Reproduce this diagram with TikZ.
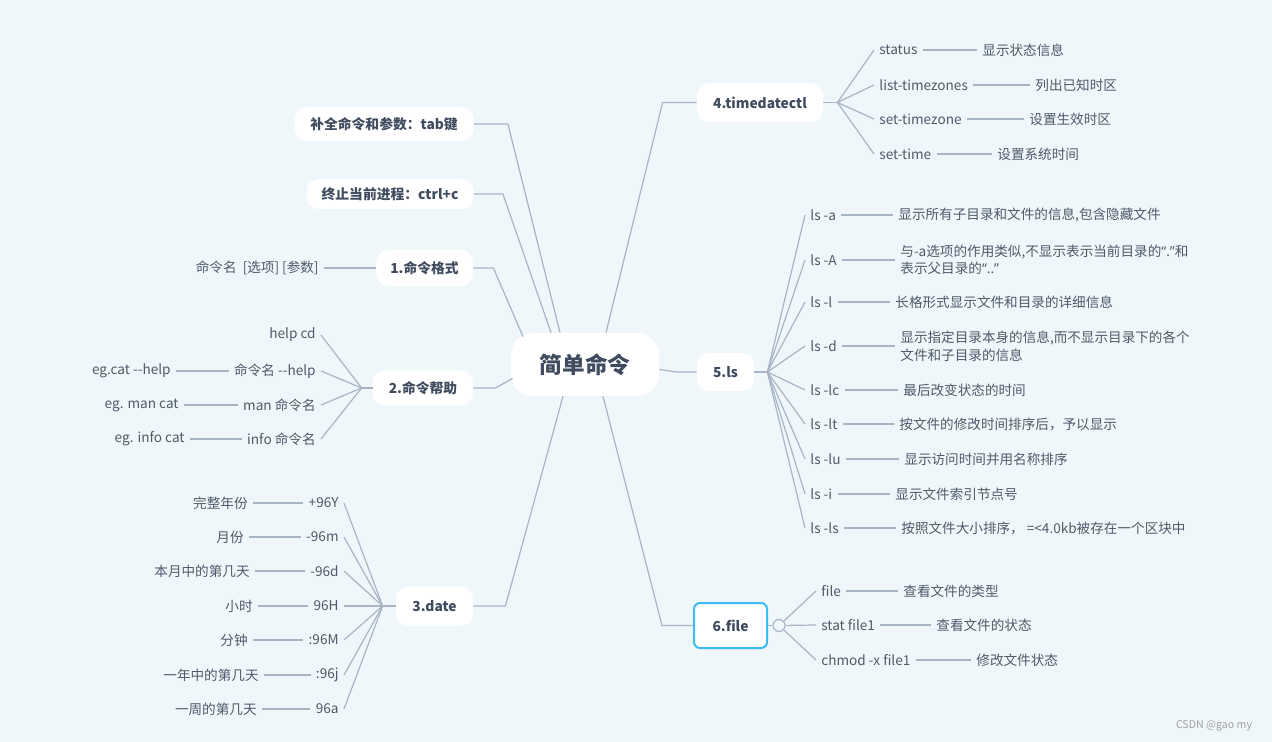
\documentclass[tikz,border=0pt]{standalone}
\usepackage{fontspec}
\setmainfont{Noto Sans CJK SC}
\newfontfamily\latinfont{Noto Sans}
\usetikzlibrary{positioning, calc}
\definecolor{bgblue}{HTML}{EFF7FB}
\definecolor{ink}{HTML}{3F4B5E}
\definecolor{leafink}{HTML}{4F5A6A}
\definecolor{wirecol}{HTML}{A8B5C5}
\definecolor{selblue}{HTML}{3CBAF4}

\begin{document}
\begin{tikzpicture}[x=0.5pt, y=-0.5pt,
    topic/.style={fill=white, rounded corners=6pt, text=ink, inner sep=0pt,
                  font=\fontsize{6.9pt}{8pt}\selectfont\bfseries, minimum height=18pt},
    leaf/.style={text=leafink, font=\fontsize{6.8pt}{8.8pt}\selectfont, inner sep=2.5pt, align=left},
    wire/.style={draw=wirecol, line width=0.6pt}]
  \fill[bgblue] (0,0) rectangle (1272,742);
  % centre and main topics
  \node[topic, font=\fontsize{11.3pt}{13pt}\selectfont\bfseries, minimum width=74pt,
        minimum height=31.5pt, rounded corners=11pt] (root) at (585,364.5) {简单命令};
  \node[topic, minimum width=89.5pt, minimum height=17pt] (tab) at (384,124) {补全命令和参数：tab键};
  \node[topic, minimum width=83.5pt, minimum height=15pt] (ctrl) at (390,194) {终止当前进程：ctrl+c};
  \node[topic, minimum width=48.5pt] (fmt) at (424.5,268) {1.命令格式};
  \node[topic, minimum width=50pt, minimum height=17.5pt] (help) at (423,388) {2.命令帮助};
  \node[topic, minimum width=38.5pt, minimum height=19.5pt] (date) at (434.5,606) {3.date};
  \node[topic, minimum width=63pt, minimum height=19.5pt] (tdc) at (760,102.5) {4.timedatectl};
  \node[topic, minimum width=28.5pt, minimum height=19pt] (ls) at (725.5,372) {5.ls};
  \node[topic, draw=selblue, line width=1pt, rounded corners=3pt, minimum width=36.5pt,
        minimum height=22.5pt] (file) at (730.5,625.5) {6.file};

  \draw[wire] (tab.east) -- ++(34,0) -- ($(root.north)+(-25,0)$);
  \draw[wire] (ctrl.east) -- ++(29,0) -- ($(root.north)+(-34,0)$);
  \draw[wire] (fmt.east) -- ++(20,0) -- ($(root.north)+(-62,4)$);
  \draw[wire] (help.east) -- ++(22,0) -- ($(root.south west)+(2,-18)$);
  \draw[wire] (date.east) -- ++(32,0) -- ($(root.south)+(-22,0)$);
  \draw[wire] (tdc.west) -- ++(-34,0) -- ($(root.north)+(21,0)$);
  \draw[wire] (ls.west) -- ++(-20,0) -- ($(root.east)+(0,5)$);
  \draw[wire] (file.west) -- ++(-31,0) -- ($(root.south)+(18,0)$);

  % 1.命令格式
  \node[leaf, anchor=east] (fmtA) at (324,268) {命令名\ \ [选项] [参数]};
  \draw[wire] (fmtA) -- (fmt);

  % 2.命令帮助
  \coordinate (helphub) at ($(help.west)+(-11,0)$);
  \draw[wire] (help.west) -- (helphub);
  \node[leaf, anchor=east] (helpA) at (321,335) {help cd};
  \node[leaf, anchor=east] (helpB) at (321,371) {命令名 -{}-help};
  \node[leaf, anchor=east] (helpC) at (321,405) {man 命令名};
  \node[leaf, anchor=east] (helpD) at (321,439) {info 命令名};
  \node[leaf, anchor=east] (egB) at (176,371) {eg.cat -{}-help};
  \node[leaf, anchor=east] (egC) at (184,405) {eg. man cat};
  \node[leaf, anchor=east] (egD) at (190,439) {eg. info cat};
  \draw[wire] (helphub) -- (helpA.east); \draw[wire] (helphub) -- (helpB.east);
  \draw[wire] (helphub) -- (helpC.east); \draw[wire] (helphub) -- (helpD.east);
  \draw[wire] (egB) -- (helpB); \draw[wire] (egC) -- (helpC); \draw[wire] (egD) -- (helpD);

  % 3.date
  \coordinate (datehub) at ($(date.west)+(-13,0)$);
  \draw[wire] (date.west) -- (datehub);
  \node[leaf, anchor=east] (dY) at (344,503) {+96Y};
  \node[leaf, anchor=east] (dm) at (344,537) {-96m};
  \node[leaf, anchor=east] (dd) at (344,571) {-96d};
  \node[leaf, anchor=east] (dH) at (344,606) {96H};
  \node[leaf, anchor=east] (dM) at (344,640) {:96M};
  \node[leaf, anchor=east] (dj) at (344,675) {:96j};
  \node[leaf, anchor=east] (da) at (344,709) {96a};
  \node[leaf, anchor=east] (gY) at (253,503) {完整年份};
  \node[leaf, anchor=east] (gm) at (249,537) {月份};
  \node[leaf, anchor=east] (gd) at (255,571) {本月中的第几天};
  \node[leaf, anchor=east] (gH) at (258,606) {小时};
  \node[leaf, anchor=east] (gM) at (253,640) {分钟};
  \node[leaf, anchor=east] (gj) at (264,675) {一年中的第几天};
  \node[leaf, anchor=east] (ga) at (262,709) {一周的第几天};
  \draw[wire] (datehub) -- (dY.east); \draw[wire] (datehub) -- (dm.east);
  \draw[wire] (datehub) -- (dd.east); \draw[wire] (datehub) -- (dH.east);
  \draw[wire] (datehub) -- (dM.east); \draw[wire] (datehub) -- (dj.east);
  \draw[wire] (datehub) -- (da.east);
  \draw[wire] (gY) -- (dY); \draw[wire] (gm) -- (dm); \draw[wire] (gd) -- (dd);
  \draw[wire] (gH) -- (dH); \draw[wire] (gM) -- (dM); \draw[wire] (gj) -- (dj);
  \draw[wire] (ga) -- (da);

  % 4.timedatectl
  \coordinate (tdchub) at ($(tdc.east)+(14,0)$);
  \draw[wire] (tdc.east) -- (tdchub);
  \node[leaf, anchor=west] (tA) at (874,50) {status};
  \node[leaf, anchor=west] (tB) at (874,85) {list-timezones};
  \node[leaf, anchor=west] (tC) at (874,119) {set-timezone};
  \node[leaf, anchor=west] (tD) at (874,154) {set-time};
  \node[leaf, anchor=west] (tAx) at (977,50) {显示状态信息};
  \node[leaf, anchor=west] (tBx) at (1030,85) {列出已知时区};
  \node[leaf, anchor=west] (tCx) at (1024,119) {设置生效时区};
  \node[leaf, anchor=west] (tDx) at (992,154) {设置系统时间};
  \draw[wire] (tdchub) -- (tA.west); \draw[wire] (tdchub) -- (tB.west);
  \draw[wire] (tdchub) -- (tC.west); \draw[wire] (tdchub) -- (tD.west);
  \draw[wire] (tA) -- (tAx); \draw[wire] (tB) -- (tBx);
  \draw[wire] (tC) -- (tCx); \draw[wire] (tD) -- (tDx);

  % 5.ls
  \coordinate (lshub) at ($(ls.east)+(13,0)$);
  \draw[wire] (ls.east) -- (lshub);
  \node[leaf, anchor=west] (la) at (805,215) {ls -a};
  \node[leaf, anchor=west] (lA) at (805,260) {ls -A};
  \node[leaf, anchor=west] (ll) at (805,302) {ls -l};
  \node[leaf, anchor=west] (ld) at (805,346) {ls -d};
  \node[leaf, anchor=west] (llc) at (805,390) {ls -lc};
  \node[leaf, anchor=west] (llt) at (805,424) {ls -lt};
  \node[leaf, anchor=west] (llu) at (805,459) {ls -lu};
  \node[leaf, anchor=west] (li) at (805,494) {ls -i};
  \node[leaf, anchor=west] (lls) at (805,528) {ls -ls};
  \node[leaf, anchor=west] (lax) at (893,215) {显示所有子目录和文件的信息,包含隐藏文件};
  \node[leaf, anchor=west] (lAx) at (895,260) {与-a选项的作用类似,不显示表示当前目录的{\latinfont “.”}和\\表示父目录的{\latinfont “..”}};
  \node[leaf, anchor=west] (llx) at (890,302) {长格形式显示文件和目录的详细信息};
  \node[leaf, anchor=west] (ldx) at (895,346) {显示指定目录本身的信息,而不显示目录下的各个\\文件和子目录的信息};
  \node[leaf, anchor=west] (llcx) at (898,390) {最后改变状态的时间};
  \node[leaf, anchor=west] (lltx) at (894,424) {按文件的修改时间排序后，予以显示};
  \node[leaf, anchor=west] (llux) at (899,459) {显示访问时间并用名称排序};
  \node[leaf, anchor=west] (lix) at (890,494) {显示文件索引节点号};
  \node[leaf, anchor=west] (llsx) at (896,528) {按照文件大小排序，\ =<4.0kb被存在一个区块中};
  \foreach \c in {la,lA,ll,ld,llc,llt,llu,li,lls}
    \draw[wire] (lshub) -- (\c.west);
  \draw[wire] (la) -- (lax); \draw[wire] (lA) -- (lAx); \draw[wire] (ll) -- (llx);
  \draw[wire] (ld) -- (ldx); \draw[wire] (llc) -- (llcx); \draw[wire] (llt) -- (lltx);
  \draw[wire] (llu) -- (llux); \draw[wire] (li) -- (lix); \draw[wire] (lls) -- (llsx);

  % 6.file
  \node[circle, draw=wirecol, fill=bgblue, line width=0.6pt, inner sep=0pt, minimum size=6pt]
       (fold) at ($(file.east)+(11,0)$) {};
  \draw[wire] (file.east) -- (fold);
  \node[leaf, anchor=west] (fA) at (816,591) {file};
  \node[leaf, anchor=west] (fB) at (816,625) {stat file1};
  \node[leaf, anchor=west] (fC) at (816,660) {chmod -x file1};
  \node[leaf, anchor=west] (fAx) at (898,591) {查看文件的类型};
  \node[leaf, anchor=west] (fBx) at (931,625) {查看文件的状态};
  \node[leaf, anchor=west] (fCx) at (971,660) {修改文件状态};
  \draw[wire] (fold) -- (fA.west); \draw[wire] (fold) -- (fB.west); \draw[wire] (fold) -- (fC.west);
  \draw[wire] (fA) -- (fAx); \draw[wire] (fB) -- (fBx); \draw[wire] (fC) -- (fCx);

  \node[text=gray!75, font=\fontsize{5.3pt}{6pt}\selectfont] (mark) at (1214,726) {CSDN @gao my};
\end{tikzpicture}
\end{document}
